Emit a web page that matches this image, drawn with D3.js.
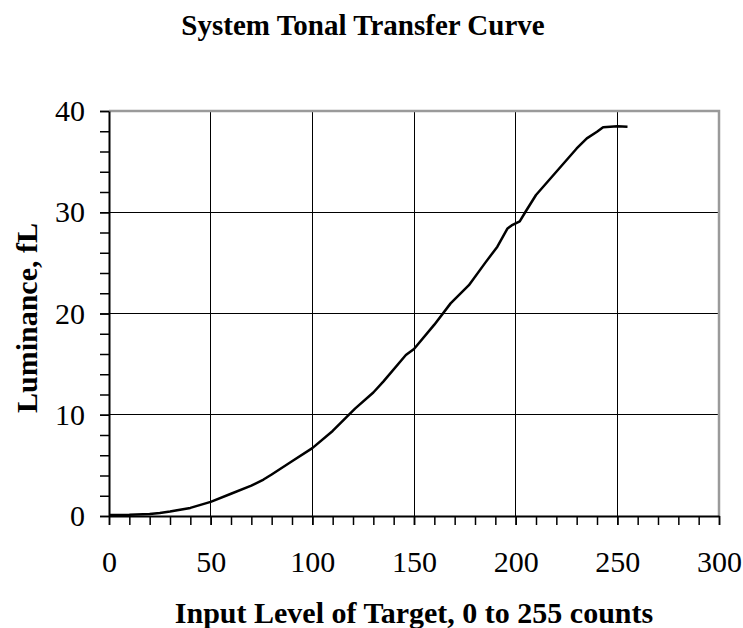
<!DOCTYPE html>
<html>
<head>
<meta charset="utf-8">
<script src="https://cdn.jsdelivr.net/npm/d3@7"></script>
<style>
  body { margin: 0; background: #fff; }
  svg { display: block; font-family: "Liberation Serif", "Times New Roman", serif; }
</style>
</head>
<body>
<svg width="743" height="628"></svg>
<script>
/**Data**/
// input level (counts)
var inputLevel = [0, 10, 20, 25, 30, 40, 50, 60, 70, 76, 80, 90, 100, 110, 121, 130, 135, 146, 150,
	160, 168, 177, 185, 191, 196, 198, 202, 205, 210, 220, 230, 235, 240, 243, 250, 255];
// luminance, fL
var luminance = [0.1, 0.12, 0.2, 0.3, 0.45, 0.8, 1.4, 2.2, 3.0, 3.6, 4.1, 5.4, 6.7, 8.4, 10.6, 12.2, 13.3, 15.9, 16.5,
	18.9, 21.0, 22.8, 25.0, 26.6, 28.4, 28.7, 29.1, 30.1, 31.7, 34.0, 36.3, 37.3, 37.95, 38.4, 38.5, 38.45];
var xTicks = [0, 50, 100, 150, 200, 250, 300];
var yTicks = [0, 10, 20, 30, 40];
var xMinor = d3.range(0, 301, 10);
var yMinor = d3.range(0, 41, 2);

var svg = d3.select("svg");
//plot area edges (avoid the name "top", it is window.top)
var pLeft = 109, pRight = 719, pTop = 111, pBottom = 516;

var x = d3.scaleLinear().domain([0, 300]).range([pLeft, pRight]);
var y = d3.scaleLinear().domain([0, 40]).range([pBottom, pTop]);

//Title
svg.append("text")
	.attr("x", 363).attr("y", 35)
	.attr("text-anchor", "middle")
	.attr("font-size", 29).attr("font-weight", "bold")
	.text("System Tonal Transfer Curve");

//Gridlines
var grid = svg.append("g").attr("shape-rendering", "crispEdges");
grid.selectAll(".gx").data(xTicks.slice(1, -1)).enter().append("line")
	.attr("x1", function(d) { return x(d); }).attr("x2", function(d) { return x(d); })
	.attr("y1", pTop).attr("y2", pBottom)
	.attr("stroke", "#000").attr("stroke-width", 1);
grid.selectAll(".gy").data(yTicks.slice(1, -1)).enter().append("line")
	.attr("x1", pLeft).attr("x2", pRight)
	.attr("y1", function(d) { return y(d); }).attr("y2", function(d) { return y(d); })
	.attr("stroke", "#000").attr("stroke-width", 1);

//Plot border (top and right in gray)
svg.append("path")
	.attr("d", "M" + pLeft + "," + pTop + "H" + pRight + "V" + pBottom)
	.attr("fill", "none").attr("stroke", "#9a9a9a").attr("stroke-width", 2.5);

//Minor ticks
svg.append("g")
	.attr("transform", "translate(0," + pBottom + ")")
	.call(d3.axisBottom(x).tickValues(xMinor).tickSize(9).tickFormat(""))
	.call(function(g) { g.select(".domain").remove(); })
	.selectAll("line").attr("stroke-width", 1.5);
svg.append("g")
	.attr("transform", "translate(" + pLeft + ",0)")
	.call(d3.axisLeft(y).tickValues(yMinor).tickSize(9).tickFormat(""))
	.call(function(g) { g.select(".domain").remove(); })
	.selectAll("line").attr("stroke-width", 1.5);

//Major axes
var xAxis = svg.append("g")
	.attr("transform", "translate(0," + pBottom + ")")
	.call(d3.axisBottom(x).tickValues(xTicks).tickSize(9).tickPadding(26).tickSizeOuter(0));
xAxis.select(".domain").attr("stroke-width", 2);
xAxis.selectAll("line").attr("stroke-width", 1.5);
xAxis.selectAll("text").attr("font-size", 30).attr("font-family", "Liberation Serif, Times New Roman, serif").attr("fill", "#000");

var yAxis = svg.append("g")
	.attr("transform", "translate(" + pLeft + ",0)")
	.call(d3.axisLeft(y).tickValues(yTicks).tickSize(9).tickPadding(15).tickSizeOuter(0));
yAxis.select(".domain").attr("stroke-width", 2);
yAxis.selectAll("line").attr("stroke-width", 1.5);
yAxis.selectAll("text").attr("font-size", 30).attr("font-family", "Liberation Serif, Times New Roman, serif").attr("fill", "#000");

//Axis titles
svg.append("text")
	.attr("x", 414).attr("y", 623)
	.attr("text-anchor", "middle")
	.attr("font-size", 30).attr("font-weight", "bold")
	.text("Input Level of Target, 0 to 255 counts");
svg.append("text")
	.attr("transform", "translate(37,318) rotate(-90)")
	.attr("text-anchor", "middle")
	.attr("font-size", 30).attr("font-weight", "bold")
	.text("Luminance, fL");

//Curve
var line = d3.line()
	.x(function(d, i) { return x(inputLevel[i]); })
	.y(function(d) { return y(d); });
svg.append("path")
	.datum(luminance)
	.attr("d", line)
	.attr("fill", "none")
	.attr("stroke", "#000")
	.attr("stroke-width", 2.5)
	.attr("stroke-linejoin", "round");
</script>
</body>
</html>
